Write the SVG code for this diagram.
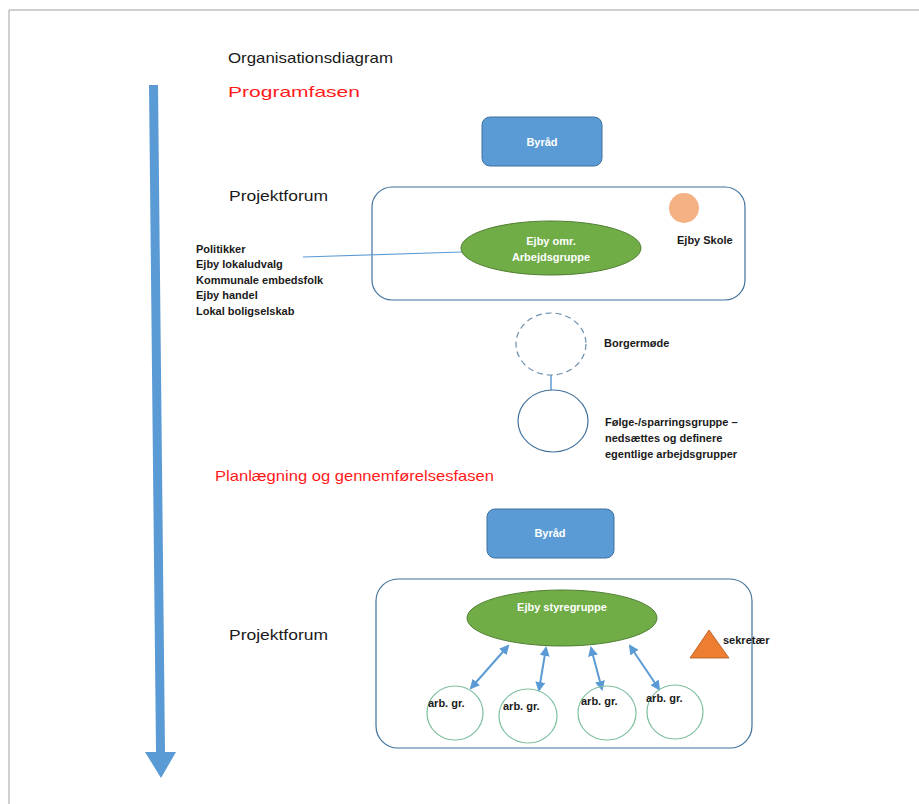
<svg xmlns="http://www.w3.org/2000/svg" width="919" height="804" viewBox="0 0 919 804">
<style>
text{font-family:"Liberation Sans","Open Sans",Arial,sans-serif}
.h{font-size:15px;fill:#1a1a1a}
.red{font-size:15px;fill:#ff1a1a}
.w{font-size:11px;fill:#fff;font-weight:bold;text-anchor:middle}
.s{font-size:11px;fill:#1a1a1a;font-weight:bold}
.box{fill:#5b9bd5;stroke:#41719c;stroke-width:1}
.frame{fill:#fff;stroke:#41719c;stroke-width:1.2}
.green{fill:#70ad47;stroke:#507e32;stroke-width:1}
.sm{fill:none;stroke:#7fbf9f;stroke-width:1.2}
.arr{stroke:#5b9bd5;stroke-width:2;fill:none;marker-start:url(#ah);marker-end:url(#ah)}
</style>
<defs>
<marker id="ah" viewBox="0 0 10 10" refX="8" refY="5" markerWidth="5" markerHeight="5" orient="auto-start-reverse" markerUnits="strokeWidth">
<path d="M0,0 L10,5 L0,10 z" fill="#5b9bd5"/>
</marker>
</defs>
<rect width="919" height="804" fill="#fff"/>
<path d="M9,804 V10 H919" fill="none" stroke="#a0a0a0" stroke-width="1"/>
<polygon id="timeline" points="149,85 158,85 165,752 176,752 161,778 145,752 156,752" fill="#5b9bd5"/>
<text class="h" x="228" y="63" textLength="165" lengthAdjust="spacingAndGlyphs">Organisationsdiagram</text>
<text class="red" x="228" y="97" textLength="132" lengthAdjust="spacingAndGlyphs">Programfasen</text>
<text class="h" x="229" y="201" textLength="99" lengthAdjust="spacingAndGlyphs">Projektforum</text>
<text class="red" x="215" y="481" textLength="279" lengthAdjust="spacingAndGlyphs">Planlægning og gennemførelsesfasen</text>
<text class="h" x="229" y="640" textLength="99" lengthAdjust="spacingAndGlyphs">Projektforum</text>
<g id="byraad1"><rect class="box" x="482" y="117" width="120" height="49" rx="8"/><text class="w" x="542" y="146">Byråd</text></g>
<g id="projektforum1"><rect class="frame" x="372" y="187" width="373" height="113" rx="20"/></g>
<g id="projektforum2"><rect class="frame" x="376" y="579" width="376" height="169" rx="22"/></g>
<g id="connectors">
<line x1="303" y1="257" x2="462" y2="252" stroke="#5b9bd5" stroke-width="1.2"/>
<line x1="551" y1="375" x2="551" y2="390" stroke="#5b9bd5" stroke-width="1.5"/>
<line class="arr" x1="508" y1="646" x2="471" y2="688"/>
<line class="arr" x1="546" y1="648" x2="539" y2="690"/>
<line class="arr" x1="591" y1="648" x2="602" y2="689"/>
<line class="arr" x1="630" y1="646" x2="659" y2="689"/>
</g>
<g id="ejbyskole"><circle cx="684" cy="208" r="15" fill="#f4b183"/><text class="s" x="677" y="244">Ejby Skole</text></g>
<g id="arbejdsgruppe"><ellipse class="green" cx="551" cy="248" rx="90" ry="27"/><text class="w" x="551" y="245">Ejby omr.</text><text class="w" x="551" y="261">Arbejdsgruppe</text></g>
<g id="deltagere">
<text class="s" x="196" y="253">Politikker</text>
<text class="s" x="196" y="268">Ejby lokaludvalg</text>
<text class="s" x="196" y="284">Kommunale embedsfolk</text>
<text class="s" x="196" y="299">Ejby handel</text>
<text class="s" x="196" y="315">Lokal boligselskab</text>
</g>
<g id="borgermoede"><ellipse cx="551" cy="344" rx="35" ry="31" fill="none" stroke="#6a8cae" stroke-width="1.2" stroke-dasharray="6,4"/><text class="s" x="604" y="347">Borgermøde</text></g>
<g id="foelgegruppe"><ellipse cx="553" cy="421" rx="35" ry="31" fill="#fff" stroke="#41719c" stroke-width="1.2"/>
<text class="s" x="605" y="426">Følge-/sparringsgruppe –</text>
<text class="s" x="605" y="442">nedsættes og definere</text>
<text class="s" x="605" y="458">egentlige arbejdsgrupper</text></g>
<g id="byraad2"><rect class="box" x="487" y="509" width="127" height="49" rx="8"/><text class="w" x="550" y="537">Byråd</text></g>
<g id="styregruppe"><ellipse class="green" cx="562" cy="618" rx="95" ry="28"/><text class="w" x="562" y="611">Ejby styregruppe</text></g>
<g id="sekretaer"><polygon points="709,630 729,658 690,658" fill="#ed7d31" stroke="#ae5a21" stroke-width="0.8"/><text class="s" x="723" y="644">sekretær</text></g>
<g id="arb1"><ellipse class="sm" cx="455" cy="713" rx="28" ry="27"/><text class="s" x="428" y="707">arb. gr.</text></g>
<g id="arb2"><ellipse class="sm" cx="528" cy="716" rx="29" ry="27"/><text class="s" x="503" y="710">arb. gr.</text></g>
<g id="arb3"><ellipse class="sm" cx="607" cy="713" rx="29" ry="27"/><text class="s" x="581" y="705">arb. gr.</text></g>
<g id="arb4"><ellipse class="sm" cx="675" cy="712" rx="28" ry="27"/><text class="s" x="646" y="702">arb. gr.</text></g>
</svg>
